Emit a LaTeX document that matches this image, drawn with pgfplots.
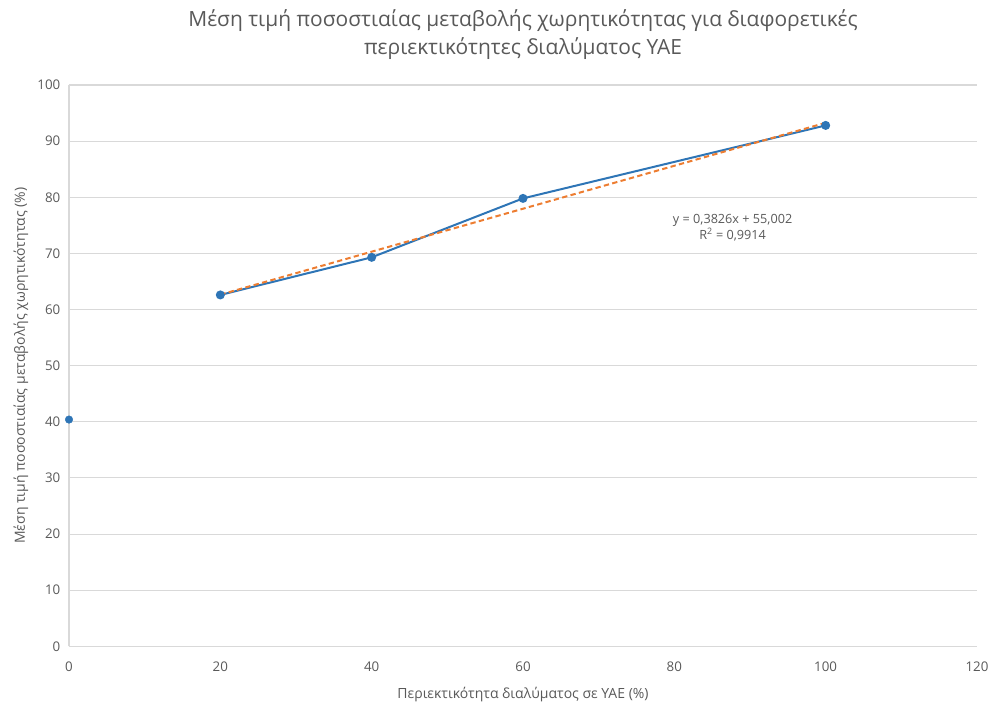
\documentclass[border=0pt]{standalone}
\usepackage{pgfplots}
\pgfplotsset{compat=1.18}
\usepackage{fontspec}
\setmainfont{Open Sans}
\definecolor{txt}{HTML}{595959}
\definecolor{grd}{HTML}{D9D9D9}
\definecolor{ser}{HTML}{2E75B6}
\definecolor{trd}{HTML}{ED7D31}
\begin{document}
\begin{tikzpicture}
\begin{axis}[
  scale only axis,
  width=681pt, height=421pt,
  xmin=0, xmax=120, ymin=0, ymax=100,
  xtick={0,20,...,120}, ytick={0,10,...,100},
  axis x line*=bottom, axis y line*=left,
  axis line style={draw=grd, line width=0.8pt},
  tick style={draw=none},
  ymajorgrids, grid style={draw=grd, line width=0.8pt},
  tick label style={font=\fontsize{10}{12}\selectfont, text=txt},
  /pgf/number format/assume math mode=true,
  xticklabel style={yshift=-8pt},
  yticklabel style={xshift=-3pt},
  xlabel={Περιεκτικότητα διαλύματος σε ΥΑΕ (\%)},
  ylabel={Μέση τιμή ποσοστιαίας μεταβολής χωρητικότητας (\%)},
  label style={font=\fontsize{10.5}{12}\selectfont, text=txt},
  xlabel style={yshift=-5pt},
  ylabel style={yshift=0pt},
  title={Μέση τιμή ποσοστιαίας μεταβολής χωρητικότητας για διαφορετικές\\περιεκτικότητες διαλύματος ΥΑΕ},
  title style={font=\fontsize{15.7}{21}\selectfont, text=txt, align=center, yshift=9.5pt},
  clip=false,
]
\addplot[only marks, mark=*, mark size=2.8pt, ser] coordinates {(0,40.4)};
\addplot[ser, line width=1.5pt, mark=*, mark size=2.6pt] coordinates {
(20,62.6) (40,69.3) (60,79.8) (100,92.8)};
\addplot[trd, line width=1.5pt, dash pattern=on 4pt off 2.5pt] coordinates {(20,62.654) (100,93.262)};
\node[font=\fontsize{9.5}{12}\selectfont, text=txt, align=center] at (axis cs:87.7,74.5) {y = 0,3826x + 55,002\\R\textsuperscript{2} = 0,9914};
\end{axis}
\path (current axis.south west)++(-51.75pt,-43.5pt) rectangle ([shift={(13.5pt,63.75pt)}]current axis.north east);
\end{tikzpicture}
\end{document}
